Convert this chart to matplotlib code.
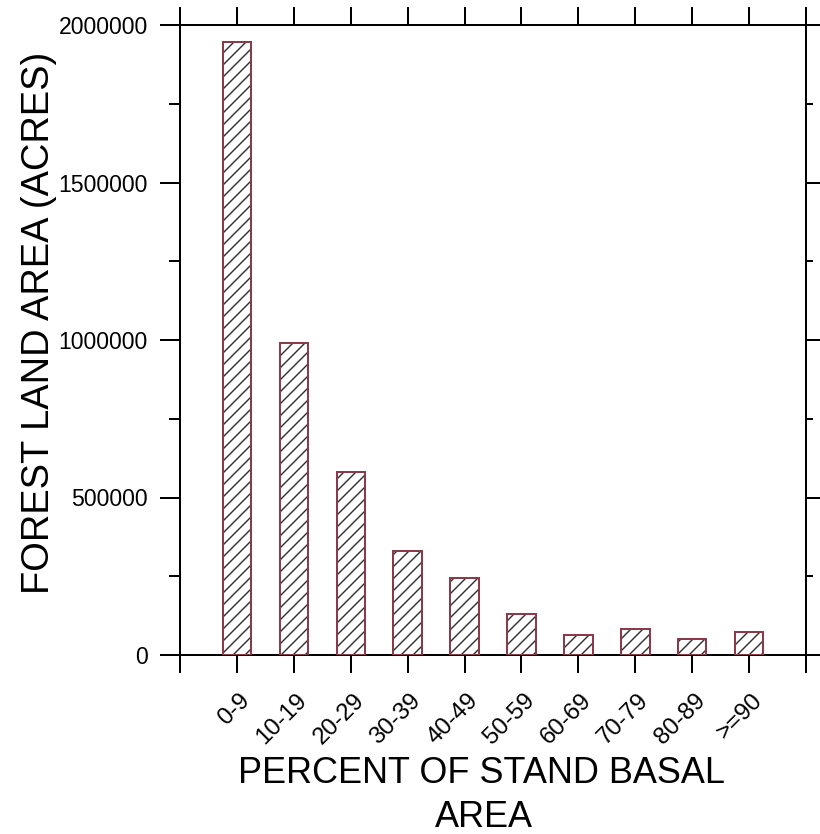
import matplotlib
matplotlib.use('Agg')
import matplotlib.pyplot as plt
import matplotlib.transforms as mtransforms

# ---- data ----
categories = ['0-9', '10-19', '20-29', '30-39', '40-49', '50-59',
              '60-69', '70-79', '80-89', '>=90']
acres = [1945000, 990000, 580000, 330000, 243000, 129000,
         63000, 82000, 50000, 73000]
y_major = [0, 500000, 1000000, 1500000, 2000000]
y_minor = [250000, 750000, 1250000, 1750000]

DPI = 144
W, H = 820, 834
plt.rcParams['font.family'] = ['Liberation Sans', 'DejaVu Sans']
plt.rcParams['hatch.linewidth'] = 0.7

fig = plt.figure(figsize=(W / DPI, H / DPI), dpi=DPI)
ax = fig.add_axes([180 / W, 1 - 655 / H, 626 / W, 630 / H])

x = list(range(len(categories)))
ax.bar(x, acres, width=0.5, color='white', edgecolor='#2e2e2e',
       linewidth=0, hatch='////', zorder=2)
ax.bar(x, acres, width=0.5, facecolor='none', edgecolor='#8b3a4a',
       linewidth=1.0, zorder=3)

ax.set_xlim(-1, 10)
ax.set_ylim(0, 2000000)

for sp in ax.spines.values():
    sp.set_linewidth(1.0)
    sp.set_color('black')

# x ticks (including ones at the frame edges)
ax.set_xticks(list(range(-1, 11)))
ax.set_xticklabels([''] + categories + [''])
ax.tick_params(axis='x', which='major', direction='out', length=9, width=1.0,
               top=True, bottom=True, pad=12, labelsize=12)
offset = mtransforms.ScaledTranslation(5 / 72, 0, fig.dpi_scale_trans)
for lab in ax.get_xticklabels():
    lab.set_rotation(45)
    lab.set_ha('right')
    lab.set_va('center')
    lab.set_rotation_mode('anchor')
    lab.set_transform(lab.get_transform() + offset)

# left y ticks
ax.set_yticks(y_major)
ax.set_yticklabels([str(v) for v in y_major])
ax.set_yticks(y_minor, minor=True)
ax.tick_params(axis='y', which='major', direction='out', length=10, width=1.0,
               left=True, right=False, pad=6, labelsize=11.5)
ax.tick_params(axis='y', which='minor', direction='out', length=5.5, width=1.0,
               left=True, right=False)

# right y ticks via twin axis
ax2 = ax.twinx()
ax2.set_ylim(ax.get_ylim())
ax2.set_yticks(y_major)
ax2.set_yticks(y_minor, minor=True)
ax2.tick_params(axis='y', which='major', direction='out', length=7, width=1.0,
                labelright=False)
ax2.tick_params(axis='y', which='minor', direction='out', length=3.5, width=1.0)
for sp in ax2.spines.values():
    sp.set_visible(False)

# axis titles
fig.text(39 / W, 1 - 323 / H, 'FOREST LAND AREA (ACRES)', rotation=90,
         ha='center', va='center', fontsize=19)
fig.text(482 / W, 1 - 783 / H, 'PERCENT OF STAND BASAL', ha='center',
         va='baseline', fontsize=18)
fig.text(484 / W, 1 - 827 / H, 'AREA', ha='center', va='baseline', fontsize=18)

fig.savefig('out.png', dpi=DPI, facecolor='white')
